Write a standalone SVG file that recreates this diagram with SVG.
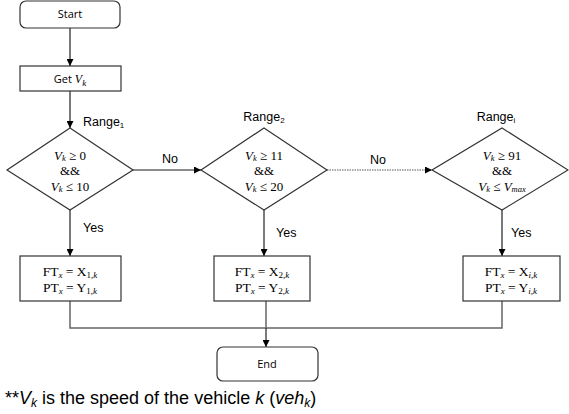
<svg xmlns="http://www.w3.org/2000/svg" width="569" height="414" viewBox="0 0 569 414">
<style>
.box{fill:#fff;stroke:#333;stroke-width:1.2}
.conn{fill:none;stroke:#222;stroke-width:1.2}
.grey{fill:none;stroke:#666;stroke-width:1.5}
.dot{fill:none;stroke:#555;stroke-width:1.2;stroke-dasharray:1.5 1}
.cal{font-family:"Open Sans","Liberation Sans",sans-serif;font-size:11px;fill:#000;text-anchor:middle}
.ar{font-family:"Liberation Sans",Arial,sans-serif;font-size:12.5px;fill:#000}
.m{font-family:"Liberation Serif","DejaVu Serif",serif;font-size:13px;fill:#000;text-anchor:middle}
.b{font-size:13.5px}
.i{font-style:italic}
</style>
<defs>
<marker id="ah" viewBox="0 0 10 10" refX="10" refY="5" markerWidth="7" markerHeight="7" markerUnits="userSpaceOnUse" orient="auto">
<path d="M0,0 L10,5 L0,10 z" fill="#000"/>
</marker>
</defs>
<g id="connectors">
<line class="conn" x1="70" y1="28" x2="70" y2="66" marker-end="url(#ah)"/>
<line class="conn" x1="70" y1="91" x2="70" y2="128" marker-end="url(#ah)"/>
<line class="conn" x1="70" y1="210" x2="70" y2="256" marker-end="url(#ah)"/>
<line class="grey" x1="133" y1="170" x2="201" y2="170" marker-end="url(#ah)"/>
<line class="dot" x1="327" y1="170" x2="432" y2="170" marker-end="url(#ah)"/>
<line class="conn" x1="264" y1="210" x2="264" y2="256" marker-end="url(#ah)"/>
<line class="conn" x1="502" y1="210" x2="502" y2="256" marker-end="url(#ah)"/>
<polyline class="grey" points="70,301 70,328 502,328 502,301"/>
<line class="grey" x1="266" y1="301" x2="266" y2="328"/>
<line class="conn" x1="266" y1="328" x2="266" y2="347" stroke-width="1.8" marker-end="url(#ah)"/>
<text class="ar" x="170" y="163" text-anchor="middle">No</text>
<text class="ar" x="378" y="164" text-anchor="middle">No</text>
<text class="ar" x="83" y="232">Yes</text>
<text class="ar" x="276" y="237">Yes</text>
<text class="ar" x="511" y="237">Yes</text>
</g>
<g id="start">
<rect class="box" x="20" y="1" width="100" height="27" rx="6"/>
<text class="cal" x="70" y="18">Start</text>
</g>
<g id="get">
<rect class="box" x="20" y="66" width="101" height="25"/>
<text class="cal" x="70" y="83">Get <tspan font-family="Liberation Serif,serif" font-style="italic" font-size="12">V</tspan><tspan font-family="Liberation Serif,serif" font-style="italic" font-size="9" dy="3">k</tspan></text>
</g>
<g id="range1">
<text class="ar" x="83" y="126">Range<tspan font-size="8" dy="2">1</tspan></text>
<polygon class="box" points="70,128 133,170 70,210 7,170"/>
<text class="m" x="70" y="159.5"><tspan class="i">V</tspan><tspan class="i" font-size="8.5" dy="1.5">k</tspan><tspan dy="-1.5"> ≥ 0</tspan></text>
<text class="m" x="70" y="175">&amp;&amp;</text>
<text class="m" x="70" y="190.5"><tspan class="i">V</tspan><tspan class="i" font-size="8.5" dy="1.5">k</tspan><tspan dy="-1.5"> ≤ 10</tspan></text>
</g>
<g id="range2">
<text class="ar" x="264" y="121" text-anchor="middle">Range<tspan font-size="8" dy="2">2</tspan></text>
<polygon class="box" points="264,128 327,170 264,210 201,170"/>
<text class="m" x="264" y="159.5"><tspan class="i">V</tspan><tspan class="i" font-size="8.5" dy="1.5">k</tspan><tspan dy="-1.5"> ≥ 11</tspan></text>
<text class="m" x="264" y="175">&amp;&amp;</text>
<text class="m" x="264" y="190.5"><tspan class="i">V</tspan><tspan class="i" font-size="8.5" dy="1.5">k</tspan><tspan dy="-1.5"> ≤ 20</tspan></text>
</g>
<g id="rangei">
<text class="ar" x="496" y="121" text-anchor="middle">Range<tspan font-size="8" dy="2">i</tspan></text>
<polygon class="box" points="502,128 568,170 502,210 432,170"/>
<text class="m" x="502" y="159.5"><tspan class="i">V</tspan><tspan class="i" font-size="8.5" dy="1.5">k</tspan><tspan dy="-1.5"> ≥ 91</tspan></text>
<text class="m" x="502" y="175">&amp;&amp;</text>
<text class="m" x="502" y="190.5"><tspan class="i">V</tspan><tspan class="i" font-size="8.5" dy="1.5">k</tspan><tspan dy="-1.5"> ≤ </tspan><tspan class="i">V</tspan><tspan class="i" font-size="8.5" dy="1.5">max</tspan></text>
</g>
<g id="box1">
<rect class="box" x="20" y="256" width="101" height="45"/>
<text class="m b" x="70" y="276">FT<tspan class="i" font-size="9" dy="1.5">x</tspan><tspan dy="-1.5"> = X</tspan><tspan font-size="9" dy="1.5">1,</tspan><tspan class="i" font-size="9">k</tspan></text>
<text class="m b" x="70" y="292">PT<tspan class="i" font-size="9" dy="1.5">x</tspan><tspan dy="-1.5"> = Y</tspan><tspan font-size="9" dy="1.5">1,</tspan><tspan class="i" font-size="9">k</tspan></text>
</g>
<g id="box2">
<rect class="box" x="214" y="256" width="96" height="45"/>
<text class="m b" x="262" y="276">FT<tspan class="i" font-size="9" dy="1.5">x</tspan><tspan dy="-1.5"> = X</tspan><tspan font-size="9" dy="1.5">2,</tspan><tspan class="i" font-size="9">k</tspan></text>
<text class="m b" x="262" y="292">PT<tspan class="i" font-size="9" dy="1.5">x</tspan><tspan dy="-1.5"> = Y</tspan><tspan font-size="9" dy="1.5">2,</tspan><tspan class="i" font-size="9">k</tspan></text>
</g>
<g id="box3">
<rect class="box" x="463" y="256" width="97" height="45"/>
<text class="m b" x="511" y="276">FT<tspan class="i" font-size="9" dy="1.5">x</tspan><tspan dy="-1.5"> = X</tspan><tspan class="i" font-size="9" dy="1.5">i</tspan><tspan font-size="9">,</tspan><tspan class="i" font-size="9">k</tspan></text>
<text class="m b" x="511" y="292">PT<tspan class="i" font-size="9" dy="1.5">x</tspan><tspan dy="-1.5"> = Y</tspan><tspan class="i" font-size="9" dy="1.5">i</tspan><tspan font-size="9">,</tspan><tspan class="i" font-size="9">k</tspan></text>
</g>
<g id="end">
<rect class="box" x="217" y="347" width="101" height="34" rx="6"/>
<text class="cal" x="267" y="368">End</text>
</g>
<g id="footer">
<text x="5" y="404" font-family="Liberation Sans,Arial,sans-serif" font-size="18" fill="#000">**<tspan font-style="italic">V</tspan><tspan font-style="italic" font-size="12" dy="3">k</tspan><tspan dy="-3"> is the speed of the vehicle </tspan><tspan font-style="italic">k</tspan> (<tspan font-style="italic">veh</tspan><tspan font-style="italic" font-size="12" dy="3">k</tspan><tspan dy="-3">)</tspan></text>
</g>
</svg>
